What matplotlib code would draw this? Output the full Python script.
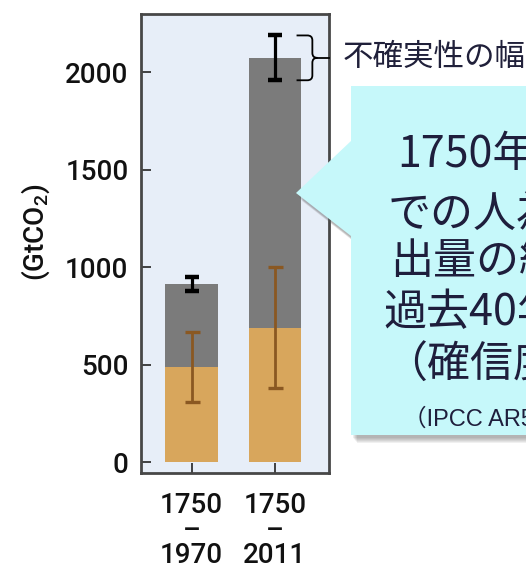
import numpy as np
import matplotlib.pyplot as plt
from matplotlib.patches import Polygon, PathPatch
from matplotlib.path import Path

plt.rcParams['mathtext.default'] = 'regular'

# cumulative anthropogenic CO2 emissions (GtCO2)
periods = ['1750\n–\n1970', '1750\n–\n2011']
land_use = [490, 690]       # forestry and other land use (orange)
fossil = [425, 1385]        # fossil fuel, cement, flaring (gray)
land_err = [180, 310]
total_err = [35, 115]
yticks = [0, 500, 1000, 1500, 2000]

callout_lines = ['1750年から2011年ま',
                 'での人為起源のCO₂排',
                 '出量の約半分は',
                 '過去40年間に排出',
                 '（確信度が高い）']
source_text = '（IPCC AR5 SYR SPM）'
brace_text = '不確実性の幅'

JP = ['Noto Sans CJK JP', 'DejaVu Sans']
NUM = ['Roboto', 'DejaVu Sans']
W, H = 526, 571

fig = plt.figure(figsize=(W / 100, H / 100), dpi=100)
ax = fig.add_axes([141 / W, 1 - 473 / H, (329 - 141) / W, (473 - 14) / H])
ax.set_facecolor('#e7eef8')

x = np.arange(len(periods))
total = np.array(land_use) + np.array(fossil)
ax.bar(x, land_use, width=0.635, color='#d8a65c', zorder=2)
ax.bar(x, fossil, width=0.635, bottom=land_use, color='#7b7b7b', zorder=2)
ax.errorbar(x, total, yerr=total_err, fmt='none', ecolor='black',
            elinewidth=2.3, capsize=4.7, capthick=3.2, zorder=3)
ax.errorbar(x, land_use, yerr=land_err, fmt='none', ecolor='#8a5822',
            elinewidth=2.0, capsize=5.4, capthick=2.4, zorder=3)

ax.set_xlim(-0.61, 1.65)
ax.set_ylim(-55, 2300)
ax.set_yticks(yticks)
ax.set_xticks(x)
ax.set_xticklabels(periods, linespacing=0.9)
ax.tick_params(direction='in', length=7, width=1.3, color='#333333',
               labelcolor='#111111', labelsize=20)
ax.tick_params(axis='y', pad=9)
ax.tick_params(axis='x', pad=14)
for lab in ax.get_xticklabels() + ax.get_yticklabels():
    lab.set_family(NUM)
    lab.set_weight('medium')
for s in ax.spines.values():
    s.set_color('#474747')
    s.set_linewidth(2.0)

fig.text(36 / W, 1 - 232 / H, '(GtCO$_2$)', rotation=90, ha='center',
         va='center', fontsize=20, family=NUM, weight='medium',
         color='#111111')

# brace marking the uncertainty range of the 2011 total
bx = x[1]
top, bot, mid = total[1] + total_err[1], total[1] - total_err[1], total[1]
x0, x1, xt = bx + 0.26, bx + 0.45, bx + 0.51
rx, ry = 0.06, 25
verts = [(x0, top), (x1 - rx, top), (x1, top), (x1, top - ry),
         (x1, mid + ry), (x1, mid), (xt, mid), (x1, mid), (x1, mid - ry),
         (x1, bot + ry), (x1, bot), (x1 - rx, bot), (x0, bot)]
codes = [Path.MOVETO, Path.LINETO, Path.CURVE3, Path.CURVE3,
         Path.LINETO, Path.CURVE3, Path.CURVE3, Path.CURVE3, Path.CURVE3,
         Path.LINETO, Path.CURVE3, Path.CURVE3, Path.LINETO]
ax.add_patch(PathPatch(Path(verts, codes), fc='none', ec='black', lw=1.3,
                       clip_on=False, zorder=4))
ax.plot([xt, 1.65], [mid, mid], color='black', lw=1.3, clip_on=False, zorder=4)

# overlay in pixel units for the callout
ov = fig.add_axes([0, 0, 1, 1], zorder=5)
ov.set_xlim(0, W)
ov.set_ylim(H, 0)
ov.axis('off')

ov.text(343, 57, brace_text, family=JP, fontsize=22, color='#20203a',
        ha='left', va='center')

outline = [(296, 193), (351, 141), (351, 86), (900, 86), (900, 435),
           (351, 435), (351, 236)]
for k in range(6):
    shadow = [(px + 2 + k * 0.8, py + 3 + k * 1.0) for px, py in outline]
    ov.add_patch(Polygon(shadow, closed=True, fc='#5a5a5a', ec='none',
                         alpha=0.09))
ov.add_patch(Polygon(outline, closed=True, fc='#c6f8fa', ec='none'))

line_y = [155, 215, 263, 313, 366]
line_x = [397, 388, 390, 383, 384]
for s, lx, ly in zip(callout_lines, line_x, line_y):
    ov.text(lx, ly, s, family=JP, fontsize=31, color='#1e1e3c',
            ha='left', va='center')
ov.text(403, 420, source_text, family=['Liberation Sans', 'Noto Sans CJK JP'],
        fontsize=17, color='#1e1e3c', ha='left', va='center')

fig.savefig('out.png', dpi=100)
